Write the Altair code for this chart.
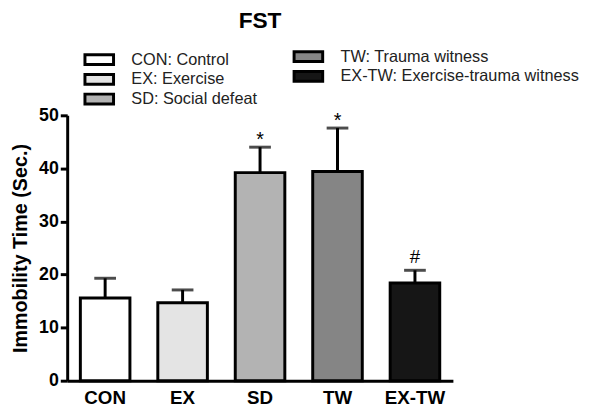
import altair as alt
import pandas as pd

codes = ["CON", "EX", "SD", "TW", "EX-TW"]
descs = ["CON: Control", "EX: Exercise", "SD: Social defeat", "TW: Trauma witness", "EX-TW: Exercise-trauma witness"]
means = [15.6, 14.7, 39.2, 39.4, 18.4]
errs = [19.3, 17.1, 44.0, 47.6, 20.8]
marks = ["", "", "*", "*", "#"]
colors = ["#ffffff", "#e4e4e4", "#b3b3b3", "#858585", "#161616"]

df = pd.DataFrame({"code": codes, "desc": descs, "mean": means, "err": errs, "sig": marks})

FONT = "Liberation Sans"

x = alt.X("code:N", sort=codes, title=None,
          scale=alt.Scale(domain=codes, paddingInner=0.36, paddingOuter=0.17),
          axis=alt.Axis(labelAngle=0, ticks=False, labelFont=FONT, labelFontSize=19,
                        labelFontWeight="bold", labelColor="black", labelPadding=8,
                        domainColor="black", domainWidth=3))
y_axis = alt.Axis(values=[0, 10, 20, 30, 40, 50], grid=False, labelFont=FONT, labelFontSize=18,
                  labelFontWeight="bold", labelColor="black", tickColor="black", tickWidth=3,
                  tickSize=7, labelPadding=2, domainColor="black", domainWidth=3,
                  titleFont=FONT, titleFontSize=20, titleFontWeight="bold", titleColor="black",
                  titlePadding=8)
y = alt.Y("mean:Q", scale=alt.Scale(domain=[0, 50], nice=False),
          title="Immobility Time (Sec.)", axis=y_axis)


def legend(lx, ly, rowpad):
    return alt.Legend(title=None, orient="none", legendX=lx, legendY=ly,
                      columns=1, rowPadding=rowpad, padding=0,
                      symbolType="M-2.07,-0.71H2.07V0.71H-2.07Z", symbolSize=196,
                      symbolStrokeColor="black", symbolStrokeWidth=3,
                      symbolOpacity=1, labelFont=FONT, labelFontSize=16.5,
                      labelColor="#222222", labelOffset=24, labelLimit=400)


base = alt.Chart(df)

bars1 = base.transform_filter(
    alt.FieldOneOfPredicate(field="code", oneOf=codes[:3])
).mark_bar(stroke="black", strokeWidth=3).encode(
    x=x, y=y,
    fill=alt.Fill("desc:N", scale=alt.Scale(domain=descs[:3], range=colors[:3]),
                  legend=legend(24, -65, -3)),
)
bars2 = base.transform_filter(
    alt.FieldOneOfPredicate(field="code", oneOf=codes[3:])
).mark_bar(stroke="black", strokeWidth=3).encode(
    x=x, y=y,
    fill=alt.Fill("desc:N", scale=alt.Scale(domain=descs[3:], range=colors[3:]),
                  legend=legend(236, -68, -5.5)),
)

rule = base.mark_rule(color="black", strokeWidth=3).encode(
    x=alt.X("code:N", sort=codes), y="mean:Q", y2="err:Q")
cap = base.mark_tick(color="black", thickness=3, size=22, orient="horizontal").encode(
    x=alt.X("code:N", sort=codes), y="err:Q")
star = base.transform_filter(alt.datum.sig == "*").mark_text(
    font=FONT, fontSize=20, baseline="bottom", dy=3, color="black").encode(
    x=alt.X("code:N", sort=codes), y="err:Q", text="sig:N")
hash_ = base.transform_filter(alt.datum.sig == "#").mark_text(
    font=FONT, fontSize=19, baseline="bottom", dy=-3, color="black").encode(
    x=alt.X("code:N", sort=codes), y="err:Q", text="sig:N")

chart = alt.layer(bars1, bars2, rule, cap, star, hash_).resolve_scale(
    fill="independent"
).properties(
    width=391, height=269,
    background="white",
    title=alt.TitleParams("FST", font=FONT, fontSize=23, fontWeight="bold", anchor="middle",
                          frame="group", color="black", offset=16),
    autosize=alt.AutoSizeParams(type="none"),
    padding={"left": 60, "top": 106, "right": 141, "bottom": 33},
).configure_view(strokeWidth=0, stroke="transparent")

chart.save("out.html", embed_options={"renderer": "svg", "actions": False})
